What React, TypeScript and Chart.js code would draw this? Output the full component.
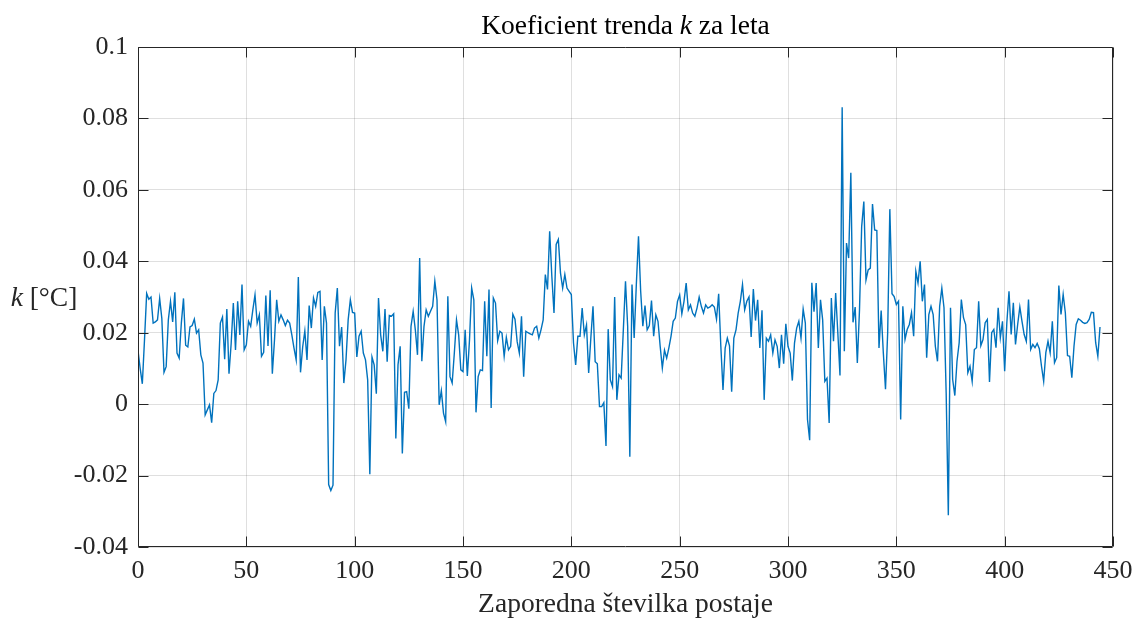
import React, { useEffect, useRef } from 'react';
import { Chart, registerables } from 'chart.js';

Chart.register(...registerables);

// Koeficient trenda k [°C] po postajah (zaporedna številka postaje 0..)
const kStations0to109 = [
  0.015, 0.010, 0.0057, 0.018, 0.031, 0.0294, 0.030, 0.0227, 0.023, 0.0236,
  0.0296, 0.024, 0.0089, 0.0105, 0.0236, 0.0288, 0.023, 0.0313, 0.0143, 0.0129,
  0.0227, 0.0296, 0.0165, 0.016, 0.0216, 0.022, 0.0238, 0.0199, 0.0208, 0.0138,
  0.0115, -0.003, -0.0016, -0.0002, -0.0052, 0.003, 0.0038, 0.0068, 0.0227, 0.0244,
  0.0126, 0.0266, 0.0085, 0.017, 0.0283, 0.0152, 0.0288, 0.0194, 0.0335, 0.0152,
  0.0166, 0.0232, 0.0218, 0.0264, 0.0306, 0.0227, 0.025, 0.0134, 0.0145, 0.0304,
  0.0163, 0.0319, 0.0085, 0.018, 0.0292, 0.0232, 0.025, 0.0236, 0.022, 0.0235,
  0.0227, 0.0194, 0.0157, 0.0124, 0.0356, 0.0089, 0.016, 0.0205, 0.0124, 0.0276,
  0.0213, 0.0297, 0.0274, 0.0313, 0.0316, 0.0124, 0.0274, 0.0227, -0.0225, -0.0242,
  -0.0227, 0.0255, 0.0325, 0.0162, 0.0216, 0.0059, 0.0124, 0.0236, 0.0292, 0.0257,
  0.0255, 0.0132, 0.019, 0.0204, 0.0143, 0.0124, 0.0068, -0.0196, 0.0132, 0.011,
];

const kStations110to219 = [
  0.0029, 0.0297, 0.0194, 0.0148, 0.0266, 0.0119, 0.0248, 0.0246, 0.0253, -0.0096,
  0.011, 0.0162, -0.0138, 0.0033, 0.0035, -0.0013, 0.0218, 0.026, 0.0208, 0.0138,
  0.0409, 0.012, 0.0218, 0.0264, 0.0246, 0.026, 0.0274, 0.0344, 0.0292, -0.0002,
  0.0038, -0.0025, -0.0049, 0.0302, 0.0077, 0.0059, 0.0143, 0.0236, 0.0194, 0.0096,
  0.0091, 0.0208, 0.0079, 0.018, 0.0325, 0.0292, -0.0023, 0.0077, 0.0096, 0.0094,
  0.0288, 0.0134, 0.0321, -0.0011, 0.0297, 0.0283, 0.0178, 0.0204, 0.0199, 0.0134,
  0.0187, 0.0152, 0.0162, 0.0252, 0.0238, 0.0175, 0.0143, 0.0246, 0.0077, 0.0204,
  0.02, 0.0197, 0.0194, 0.0213, 0.0218, 0.0185, 0.0208, 0.0236, 0.0363, 0.0321,
  0.0484, 0.0358, 0.0255, 0.0447, 0.0461, 0.0367, 0.0325, 0.0363, 0.0325, 0.0316,
  0.0307, 0.0171, 0.011, 0.019, 0.019, 0.0269, 0.0194, 0.0222, 0.0087, 0.0185,
  0.0274, 0.0119, 0.0113, -0.0007, -0.0007, 0.0004, -0.0117, 0.021, 0.0068, 0.0049,
  0.03,
];

const kStations220to329 = [
  0.0012, 0.0082, 0.0073, 0.0208, 0.0344, 0.0218, -0.0147, 0.0335, 0.0185, 0.0335,
  0.047, 0.0316, 0.0218, 0.0276, 0.0208, 0.022, 0.029, 0.019, 0.025, 0.0232,
  0.0162, 0.0101, 0.0151, 0.0129, 0.0157, 0.019, 0.0232, 0.0241, 0.0288, 0.0306,
  0.0253, 0.0288, 0.0339, 0.0264, 0.0278, 0.0255, 0.0246, 0.0269, 0.03, 0.0274,
  0.0255, 0.0278, 0.0269, 0.0272, 0.0278, 0.0272, 0.0238, 0.0309, 0.0162, 0.004,
  0.0157, 0.0185, 0.0163, 0.0035, 0.0185, 0.0208, 0.0255, 0.0288, 0.0335, 0.0264,
  0.0288, 0.03, 0.0188, 0.0322, 0.0234, 0.0292, 0.0157, 0.0263, 0.0012, 0.0185,
  0.0176, 0.0194, 0.0143, 0.018, 0.0162, 0.0101, 0.0194, 0.0113, 0.0225, 0.0162,
  0.0143, 0.0066, 0.0171, 0.0213, 0.0232, 0.0185, 0.0266, 0.0227, -0.0043, -0.0101,
  0.034, 0.0259, 0.0339, 0.0157, 0.0292, 0.0236, 0.0064, 0.0073, -0.0053, 0.0297,
  0.0176, 0.0311, 0.0199, 0.008, 0.0831, 0.0148, 0.0451, 0.0409, 0.0648,
];

const kStations330to444 = [
  0.0229, 0.0272, 0.0115, 0.0264, 0.0497, 0.0567, 0.0348, 0.0376, 0.0381, 0.056,
  0.0488, 0.0486, 0.0157, 0.0262, 0.0143, 0.0042, 0.0199, 0.0546, 0.0309, 0.0301,
  0.0279, 0.0288, -0.0043, 0.0274, 0.0181, 0.0209, 0.0223, 0.0256, 0.019, 0.0372,
  0.0339, 0.04, 0.0288, 0.0335, 0.013, 0.0251, 0.0274, 0.0251, 0.0162, 0.012,
  0.0274, 0.0325, 0.027, 0.0032, -0.0311, 0.027, 0.0069, 0.0024, 0.012, 0.0172,
  0.0293, 0.0242, 0.0223, 0.0088, 0.0106, 0.0064, 0.0153, 0.0158, 0.0288, 0.0164,
  0.0181, 0.0228, 0.0237, 0.0062, 0.02, 0.0209, 0.0158, 0.027, 0.0186, 0.0232,
  0.0092, 0.0228, 0.0316, 0.0195, 0.0284, 0.0167, 0.0223, 0.0272, 0.0232, 0.0195,
  0.0176, 0.0293, 0.0153, 0.0167, 0.0158, 0.017, 0.0155, 0.0106, 0.0064, 0.0144,
  0.0176, 0.0144, 0.0232, 0.0116, 0.013, 0.0332, 0.0251, 0.0307, 0.0256, 0.0136,
  0.0134, 0.0074, 0.0162, 0.0223, 0.0239, 0.0235, 0.0229, 0.0226, 0.0228, 0.0237,
  0.0257, 0.0256, 0.0172, 0.0134, 0.0216,
];

const trendK = [...kStations0to109, ...kStations110to219, ...kStations220to329, ...kStations330to444];
const stationNumbers = trendK.map((_, i) => i);

const xTicks = [0, 50, 100, 150, 200, 250, 300, 350, 400, 450];
const yTicks = [-0.04, -0.02, 0, 0.02, 0.04, 0.06, 0.08, 0.1];
const yTickLabels = ['-0.04', '-0.02', '0', '0.02', '0.04', '0.06', '0.08', '0.1'];

const titleParts = [
  { text: 'Koeficient trenda ', italic: false },
  { text: 'k', italic: true },
  { text: ' za leta', italic: false },
];
const yLabelParts = [
  { text: 'k', italic: true },
  { text: ' [°C]', italic: false },
];
const xLabelText = 'Zaporedna številka postaje';

const FONT = '"Liberation Serif", "Times New Roman", serif';
const AXIS_COLOR = '#262626';

function drawParts(ctx: CanvasRenderingContext2D, parts: { text: string; italic: boolean }[], size: number, cx: number, baseline: number) {
  const widths = parts.map((p) => {
    ctx.font = `${p.italic ? 'italic ' : ''}${size}px ${FONT}`;
    return ctx.measureText(p.text).width;
  });
  const total = widths.reduce((a, b) => a + b, 0);
  let x = cx - total / 2;
  parts.forEach((p, i) => {
    ctx.font = `${p.italic ? 'italic ' : ''}${size}px ${FONT}`;
    ctx.fillText(p.text, x, baseline);
    x += widths[i];
  });
}

const axesDecor = {
  id: 'axesDecor',
  afterDraw(chart: any) {
    const { ctx, chartArea, scales } = chart;
    const { left, right, top, bottom } = chartArea;
    const xs = scales.x;
    const ys = scales.y;
    ctx.save();
    ctx.strokeStyle = AXIS_COLOR;
    ctx.lineWidth = 1;
    const L = Math.round(left) + 0.5;
    const R = Math.round(right) - 0.5;
    const T = Math.round(top) + 0.5;
    const B = Math.round(bottom) - 0.5;
    ctx.beginPath();
    ctx.rect(L, T, R - L, B - T);
    ctx.stroke();
    const tl = 10;
    ctx.beginPath();
    xTicks.forEach((v) => {
      const px = Math.round(xs.getPixelForValue(v)) + 0.5;
      ctx.moveTo(px, B);
      ctx.lineTo(px, B - tl);
      ctx.moveTo(px, T);
      ctx.lineTo(px, T + tl);
    });
    yTicks.forEach((v) => {
      const py = Math.round(ys.getPixelForValue(v)) + 0.5;
      ctx.moveTo(L, py);
      ctx.lineTo(L + tl, py);
      ctx.moveTo(R, py);
      ctx.lineTo(R - tl, py);
    });
    ctx.stroke();

    ctx.fillStyle = '#000';
    ctx.textBaseline = 'alphabetic';
    ctx.textAlign = 'left';
    const cx = (left + right) / 2;
    drawParts(ctx, titleParts, 27.5, cx, 34);
    ctx.fillStyle = AXIS_COLOR;
    drawParts(ctx, [{ text: xLabelText, italic: false }], 27.5, cx, 612);
    drawParts(ctx, yLabelParts, 27.5, 44, 306);
    ctx.restore();
  },
};

export default function App() {
  const canvasRef = useRef<HTMLCanvasElement | null>(null);

  useEffect(() => {
    document.body.style.margin = '0';
    const canvas = canvasRef.current;
    if (!canvas) return;
    const chart = new Chart(canvas, {
      type: 'line',
      data: {
        datasets: [
          {
            data: stationNumbers.map((s, i) => ({ x: s, y: trendK[i] })),
            borderColor: '#0072BD',
            borderWidth: 1.4,
            pointRadius: 0,
            fill: false,
            tension: 0,
          },
        ],
      },
      options: {
        responsive: false,
        animation: false,
        devicePixelRatio: 1,
        layout: { padding: { top: 47, right: 23, left: 0, bottom: 0 } },
        plugins: {
          legend: { display: false },
          tooltip: { enabled: false },
          title: { display: false },
        },
        scales: {
          x: {
            type: 'linear',
            min: 0,
            max: 450,
            afterBuildTicks: (s: any) => {
              s.ticks = xTicks.map((v) => ({ value: v }));
            },
            afterFit: (s: any) => {
              s.height = 77;
              s.paddingLeft = 0;
              s.paddingRight = 0;
            },
            ticks: {
              callback: (v: any) => String(v),
              font: { family: FONT, size: 26 },
              color: AXIS_COLOR,
              padding: 9,
              maxRotation: 0,
              autoSkip: false,
            },
            grid: { color: 'rgba(38,38,38,0.15)', drawTicks: false, lineWidth: 1 },
            border: { display: false },
          },
          y: {
            type: 'linear',
            min: -0.04,
            max: 0.1,
            afterBuildTicks: (s: any) => {
              s.ticks = yTicks.map((v) => ({ value: v }));
            },
            afterFit: (s: any) => {
              s.width = 138;
              s.paddingTop = 0;
              s.paddingBottom = 0;
            },
            ticks: {
              callback: (v: any) => {
                const idx = yTicks.findIndex((t) => Math.abs(t - Number(v)) < 1e-9);
                return idx >= 0 ? yTickLabels[idx] : '';
              },
              font: { family: FONT, size: 26 },
              color: AXIS_COLOR,
              padding: 10,
              autoSkip: false,
            },
            grid: { color: 'rgba(38,38,38,0.15)', drawTicks: false, lineWidth: 1 },
            border: { display: false },
          },
        },
      },
      plugins: [axesDecor],
    });
    return () => chart.destroy();
  }, []);

  return (
    <div style={{ width: 1136, height: 624, background: '#fff' }}>
      <canvas ref={canvasRef} width={1136} height={624} />
    </div>
  );
}
